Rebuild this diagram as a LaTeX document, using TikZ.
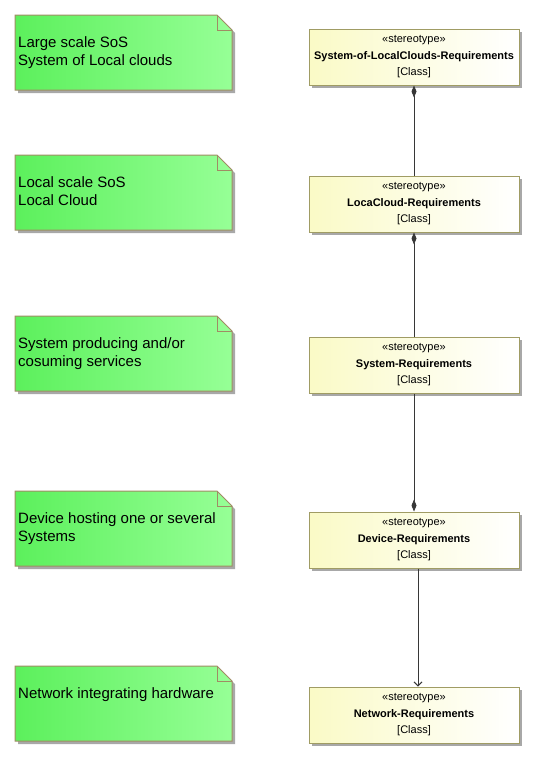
\documentclass[tikz,border=0pt]{standalone}
\usepackage{fontspec}
\setmainfont{Liberation Sans}
\usetikzlibrary{arrows.meta,shadows}
\definecolor{notegreenL}{RGB}{92,240,92}
\definecolor{notegreenR}{RGB}{150,255,150}
\definecolor{noteborder}{RGB}{160,140,100}
\definecolor{clsL}{RGB}{250,250,198}
\definecolor{clsR}{RGB}{255,255,255}
\definecolor{clsborder}{RGB}{160,156,100}
\definecolor{shadowgray}{RGB}{168,168,168}
\definecolor{linegray}{RGB}{55,55,55}
\tikzset{
  myshadow/.style={drop shadow={shadow xshift=3pt, shadow yshift=-3pt, fill=shadowgray, opacity=1}},
  cls/.style={draw=clsborder, line width=1pt, left color=clsL, right color=clsR,
    minimum width=210pt, minimum height=56pt, inner sep=0pt, align=center,
    font=\fontsize{11}{16.5}\selectfont, myshadow},
  notebox/.style={draw=noteborder, line width=1pt, left color=notegreenL, right color=notegreenR, myshadow},
  notefold/.style={draw=noteborder, line width=1pt},
  notetext/.style={anchor=north west, align=left, inner sep=0pt, font=\fontsize{15}{18}\selectfont},
  conn/.style={draw=linegray, line width=0.9pt},
  diam/.tip={Diamond[length=12pt,width=5pt,fill=linegray]},
}
\newcommand{\mynote}[3]{%
  \draw[notebox] (15,#1) -- (217,#1) -- (232,#1+15) -- (232,#1+75) -- (15,#1+75) -- cycle;
  \draw[notefold] (217,#1) -- (217,#1+15) -- (232,#1+15);
  \node[notetext] (#2) at (18,#1+21) {#3};
}
\begin{document}
\begin{tikzpicture}[x=1pt,y=-1pt]
  \useasboundingbox[fill=white] (0,0) rectangle (534,758);
  \mynote{15}{n1}{Large scale SoS\\System of Local clouds}
  \mynote{155}{n2}{Local scale SoS\\Local Cloud}
  \mynote{316}{n3}{System producing and/or\\cosuming services}
  \mynote{491}{n4}{Device hosting one or several\\Systems}
  \mynote{666}{n5}{Network integrating hardware}

  \node[cls] (c1) at (414,57)  {«stereotype»\\\textbf{System-of-LocalClouds-Requirements}\\{[Class]}};
  \node[cls] (c2) at (414,204) {«stereotype»\\\textbf{LocaCloud-Requirements}\\{[Class]}};
  \node[cls] (c3) at (414,365) {«stereotype»\\\textbf{System-Requirements}\\{[Class]}};
  \node[cls] (c4) at (414,540) {«stereotype»\\\textbf{Device-Requirements}\\{[Class]}};
  \node[cls] (c5) at (414,715) {«stereotype»\\\textbf{Network-Requirements}\\{[Class]}};

  \draw[conn, {diam}-] (c1.south) -- (c2.north);
  \draw[conn, {diam}-] (c2.south) -- (c3.north);
  \draw[conn, -{diam}] (c3.south) -- (c4.north);
  \draw[conn, -{Straight Barb[length=4pt,width=8pt]}] ([xshift=4pt]c4.south) -- ([xshift=4pt]c5.north);
\end{tikzpicture}
\end{document}
